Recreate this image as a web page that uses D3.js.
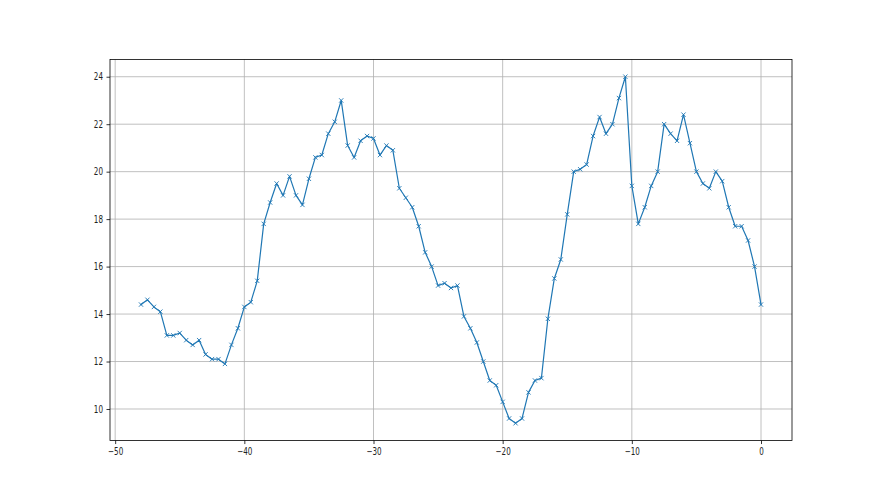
<!DOCTYPE html>
<html><head><meta charset="utf-8">
<script src="https://cdn.jsdelivr.net/npm/d3@7"></script>
<style>body{margin:0;background:#fff}svg{display:block}</style>
</head><body>
<script>
const xValues = [-48,-47.5,-47,-46.5,-46,-45.5,-45,-44.5,-44,-43.5,-43,-42.5,-42,-41.5,-41,-40.5,-40,-39.5,-39,-38.5,-38,-37.5,-37,-36.5,-36,-35.5,-35,-34.5,-34,-33.5,-33,-32.5,-32,-31.5,-31,-30.5,-30,-29.5,-29,-28.5,-28,-27.5,-27,-26.5,-26,-25.5,-25,-24.5,-24,-23.5,-23,-22.5,-22,-21.5,-21,-20.5,-20,-19.5,-19,-18.5,-18,-17.5,-17,-16.5,-16,-15.5,-15,-14.5,-14,-13.5,-13,-12.5,-12,-11.5,-11,-10.5,-10,-9.5,-9,-8.5,-8,-7.5,-7,-6.5,-6,-5.5,-5,-4.5,-4,-3.5,-3,-2.5,-2,-1.5,-1,-0.5,0];
const yValues = [14.4,14.6,14.3,14.1,13.1,13.1,13.2,12.9,12.7,12.9,12.3,12.1,12.1,11.9,12.7,13.4,14.3,14.5,15.4,17.8,18.7,19.5,19.0,19.8,19.0,18.6,19.7,20.6,20.7,21.6,22.1,23.0,21.1,20.6,21.3,21.5,21.4,20.7,21.1,20.9,19.3,18.9,18.5,17.7,16.6,16.0,15.2,15.3,15.1,15.2,13.9,13.4,12.8,12.0,11.2,11.0,10.3,9.6,9.4,9.6,10.7,11.2,11.3,13.8,15.5,16.3,18.2,20.0,20.1,20.3,21.5,22.3,21.6,22.0,23.1,24.0,19.4,17.8,18.5,19.4,20.0,22.0,21.6,21.3,22.4,21.2,20.0,19.5,19.3,20.0,19.6,18.5,17.7,17.7,17.1,16.0,14.4];
const xTicks = [-50,-40,-30,-20,-10,0];
const yTicks = [10,12,14,16,18,20,22,24];

(function(){
const W = 880, H = 495;
const mL = 110, mR = 792, mT = 59.4, mB = 440.55;
const sx = 0.72; // horizontal squeeze of text as in reference

const data = xValues.map((x,i)=>({x, y:yValues[i]}));
const xmin = d3.min(xValues), xmax = d3.max(xValues);
const ymin = d3.min(yValues), ymax = d3.max(yValues);
const xm = (xmax-xmin)*0.05, ym = (ymax-ymin)*0.05;

const x = d3.scaleLinear().domain([xmin-xm, xmax+xm]).range([mL,mR]);
const y = d3.scaleLinear().domain([ymin-ym, ymax+ym]).range([mB,mT]);

const svg = d3.select("body").append("svg").attr("width",W).attr("height",H);
svg.append("rect").attr("width",W).attr("height",H).attr("fill","#fff");

// grid
const g = svg.append("g");
g.selectAll(".vg").data(xTicks).join("line")
  .attr("x1",d=>x(d)).attr("x2",d=>x(d)).attr("y1",mT).attr("y2",mB)
  .attr("stroke","#b0b0b0").attr("stroke-width",0.8);
g.selectAll(".hg").data(yTicks).join("line")
  .attr("x1",mL).attr("x2",mR).attr("y1",d=>y(d)).attr("y2",d=>y(d))
  .attr("stroke","#b0b0b0").attr("stroke-width",0.8);

// line
const line = d3.line().x(d=>x(d.x)).y(d=>y(d.y));
svg.append("path").datum(data).attr("d",line).attr("fill","none")
  .attr("stroke","#1f77b4").attr("stroke-width",1.2).attr("stroke-linejoin","round").attr("stroke-linecap","square");

// markers
const mw = 2.1, mh = 2.2;
svg.append("g").selectAll("path").data(data).join("path")
  .attr("d",d=>{const cx=x(d.x), cy=y(d.y);
    return `M${cx-mw},${cy-mh}L${cx+mw},${cy+mh}M${cx-mw},${cy+mh}L${cx+mw},${cy-mh}`;})
  .attr("stroke","#1f77b4").attr("stroke-width",0.9);

// axes
const fmt = d3.format("d");
const xAxis = d3.axisBottom(x).tickValues(xTicks).tickSize(3.5).tickPadding(3.5).tickFormat(d=>fmt(d));
const yAxis = d3.axisLeft(y).tickValues(yTicks).tickSize(3.5).tickPadding(3.5).tickFormat(d=>fmt(d));
const xa = svg.append("g").attr("transform",`translate(0,${mB})`).call(xAxis);
const ya = svg.append("g").attr("transform",`translate(${mL},0)`).call(yAxis);
[xa,ya].forEach(a=>{
  a.select(".domain").remove();
  a.selectAll(".tick line").attr("stroke","#000").attr("stroke-width",0.8);
  a.selectAll(".tick text").attr("fill","#222").style("font-family","'DejaVu Sans'").style("font-size","10px");
});
xa.selectAll(".tick text").attr("transform",`scale(${sx},1)`);
ya.selectAll(".tick text").attr("x",-7/sx).attr("transform",`scale(${sx},1)`);

// spines
svg.append("rect").attr("x",mL).attr("y",mT).attr("width",mR-mL).attr("height",mB-mT)
  .attr("fill","none").attr("stroke","#000").attr("stroke-width",0.8);
})();
</script>
</body></html>
